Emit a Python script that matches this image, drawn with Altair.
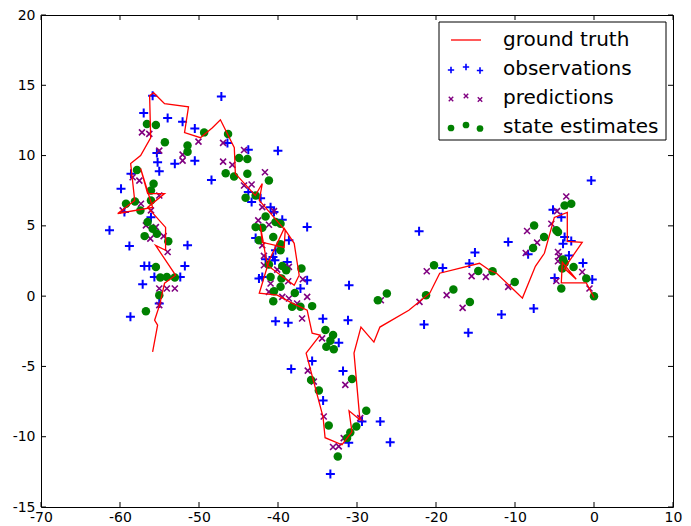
import altair as alt
import pandas as pd

# ---------------- data ----------------
truth_x = [0.0, -0.98, -4.14, -4.01, -2.25, -3.76, -1.49, -3.38, -3.38, -5.02,
           -6.28, -7.42, -9.06, -12.34, -13.22, -14.49, -19.53, -20.79, -23.44, -27.10,
           -27.86, -29.50, -30.38, -29.63, -31.01, -30.64, -31.90, -34.04, -34.30, -36.44,
           -34.67, -35.68, -36.31, -38.21, -40.10, -42.37, -41.11, -39.22, -37.95, -37.58,
           -37.32, -37.95, -41.36, -42.24, -41.99, -39.22, -39.09, -42.37, -41.99, -42.88,
           -45.40, -45.53, -47.29, -48.30, -49.82, -51.83, -51.33, -54.36, -55.75, -56.25,
           -56.12, -57.39, -58.65, -58.14, -60.29, -55.87, -57.39, -56.50, -54.36, -56.50,
           -54.23, -54.23, -55.49, -52.97, -54.36, -54.99, -55.62, -55.24, -55.87]
truth_y = [-0.10, 0.94, 0.94, 2.41, 1.20, 1.98, 3.83, 3.90, 5.95, 5.60,
           3.05, 2.12, -0.14, 1.63, 1.84, 2.34, 1.63, 0.21, -1.00, -2.20,
           -3.27, -2.20, -4.05, -8.80, -8.16, -9.65, -10.57, -10.07, -8.58, -4.05,
           -2.77, -2.63, -1.00, -0.50, 0.07, 0.21, 2.55, 4.82, 3.76, 2.41,
           1.49, 0.78, 2.20, 5.03, 3.83, 3.47, 4.68, 6.81, 8.01, 7.16,
           8.72, 10.56, 12.55, 11.98, 11.27, 11.63, 13.47, 13.69, 14.47, 14.25,
           11.27, 10.00, 9.43, 6.81, 5.88, 6.31, 9.08, 7.30, 7.30, 6.31,
           4.89, 3.26, 3.61, 1.49, 0.92, -0.64, -1.71, -2.06, -3.97]

obs_x = [-55.87, -57.00, -53.97, -52.08, -50.53, -55.33, -55.24, -53.06, -50.53, -55.03,
         -58.61, -59.87, -48.42, -61.33, -58.81, -51.45, -56.92, -56.29, -51.79, -57.13,
         -55.65, -52.37, -55.03, -58.68, -59.44, -56.08, -46.40, -43.76, -40.01, -43.76,
         -43.34, -42.20, -40.94, -40.51, -39.46, -36.31, -42.83, -38.62, -40.31, -40.64,
         -40.39, -41.57, -38.83, -42.41, -41.99, -36.31, -37.16, -40.31, -38.71, -34.32,
         -31.14, -32.31, -35.68, -38.33, -31.77, -34.29, -27.06, -29.37, -31.05, -33.37,
         -25.80, -22.14, -15.07, -19.15, -15.78, -21.51, -15.91, -11.71, -0.35, -5.19,
         -4.14, -10.86, -3.72, -3.92, -2.88, -3.17, -1.40, -4.98, -0.22, -8.34,
         -7.63, -47.17, -31.01]
obs_y = [14.26, 13.03, 12.67, 12.41, 11.93, 10.19, 9.52, 9.41, 9.64, 8.88,
         8.70, 7.64, 8.27, 4.68, 3.56, 3.62, 2.15, 2.15, 2.15, 0.85,
         1.37, 1.37, -0.52, -1.47, 5.98, 5.62, 10.90, 10.42, 10.35, 7.40,
         6.69, 6.97, 6.33, 5.98, 5.44, 4.92, 4.13, 3.97, 3.26, 2.79,
         2.55, 2.62, 2.43, 1.25, 1.37, 1.13, 0.54, -1.78, -1.90, -1.61,
         -1.71, -3.31, -4.61, -5.18, -5.32, -7.43, -8.92, -8.92, -10.43, -12.65,
         -10.39, 4.61, 3.10, 2.00, 2.32, -2.01, -2.61, -1.30, 8.22, 6.15,
         5.62, 3.85, 4.20, 3.73, 3.92, 2.90, 2.36, 1.29, 1.18, 2.98,
         -0.88, 14.20, 0.78]

pred_x = [-57.22, -56.29, -50.07, -55.03, -52.08, -52.08, -58.40, -57.55, -55.03, -59.66,
          -57.35, -56.08, -56.72, -55.46, -56.16, -54.48, -53.97, -55.03, -54.07, -53.06,
          -55.03, -46.95, -44.30, -46.95, -45.78, -41.65, -44.30, -43.34, -41.99, -40.51,
          -42.50, -41.15, -41.99, -41.78, -41.78, -40.10, -38.62, -36.86, -38.71, -40.94,
          -41.15, -39.46, -38.62, -36.31, -37.58, -36.95, -34.42, -36.23, -35.47, -31.48,
          -34.21, -29.59, -31.68, -32.31, -33.03, -21.17, -15.49, -13.69, -18.65, -22.09,
          -16.63, -26.98, -3.51, -4.68, -5.40, -8.47, -7.20, -8.64, -4.56, -4.43,
          -4.56, -1.49, -4.77, -0.57, -10.86]
pred_y = [11.65, 11.54, 10.99, 10.35, 10.07, 9.64, 8.46, 8.22, 7.16, 6.10,
          6.57, 6.10, 5.03, 4.91, 4.09, 4.27, 3.14, 0.54, 0.54, 0.54,
          -0.64, 10.90, 10.40, 9.57, 9.34, 8.81, 7.87, 7.94, 6.33, 6.05,
          5.39, 5.08, 3.61, 2.86, 2.20, 1.89, 2.08, 1.20, 1.06, 0.90,
          0.30, -0.05, -0.17, -0.05, -0.52, -1.59, -3.00, -5.30, -6.08, -6.31,
          -8.56, -8.68, -10.10, -10.69, -10.73, 1.77, 1.42, 1.37, 0.07, -0.41,
          -0.83, -0.29, 7.09, 6.05, 5.15, 4.63, 3.81, 3.07, 3.14, 2.83,
          2.48, 1.72, 1.08, 0.54, 0.66]

est_x = [-56.59, -55.46, -49.35, -54.32, -51.45, -51.45, -57.85, -55.75, -56.08, -59.24,
         -58.11, -57.42, -56.08, -56.50, -55.87, -55.33, -56.88, -53.89, -55.46, -54.90,
         -54.07, -53.06, -55.03, -56.72, -46.32, -44.93, -43.88, -46.62, -45.56, -43.88,
         -41.15, -44.10, -42.83, -41.57, -40.31, -39.68, -42.83, -41.99, -40.60, -42.41,
         -39.68, -39.68, -41.15, -39.46, -38.96, -37.03, -39.56, -39.68, -40.94, -40.51,
         -37.87, -40.60, -38.21, -37.16, -35.68, -34.00, -33.03, -33.37, -33.88, -32.94,
         -30.63, -35.81, -34.83, -28.83, -30.09, -33.58, -30.85, -31.26, -32.43, -20.25,
         -14.65, -12.84, -17.80, -21.26, -15.71, -26.22, -27.36, -3.72, -2.88, -7.58,
         -4.77, -4.56, -6.32, -7.71, -3.92, -3.72, -2.59, -4.01, -0.98, -10.03,
         -4.14, 0.0]
est_y = [12.25, 12.17, 11.65, 10.94, 10.71, 10.28, 8.98, 7.99, 7.51, 6.57,
         6.73, 6.10, 6.81, 5.27, 4.80, 4.44, 4.27, 3.90, 2.08, 1.32,
         1.37, 1.32, 0.07, -1.07, 11.54, 9.83, 9.76, 8.74, 8.51, 8.70,
         8.22, 7.00, 7.16, 5.67, 5.27, 5.15, 4.91, 4.87, 4.20, 3.97,
         3.69, 3.26, 2.25, 2.15, 1.84, 1.96, 1.25, 0.66, 1.37, 0.35,
         0.23, -0.36, -0.76, -0.76, -0.71, -2.41, -2.77, -3.17, -3.60, -3.78,
         -5.89, -5.96, -6.72, -8.16, -9.27, -9.20, -9.70, -10.10, -11.40, 2.20,
         1.79, 1.77, 0.47, 0.07, -0.41, 0.19, -0.29, 6.45, 6.57, 5.03,
         4.68, 4.56, 4.20, 3.42, 2.60, 2.36, 2.08, 1.96, 1.25, 1.01,
         0.54, 0.0]

x_ticks = [-70, -60, -50, -40, -30, -20, -10, 0, 10]
y_ticks = [-15, -10, -5, 0, 5, 10, 15, 20]

legend_labels = ["ground truth", "observations", "predictions", "state estimates"]

# ---------------- layout ----------------
W, H = 632, 492
FONT = "DejaVu Sans"

truth = pd.DataFrame({"x": truth_x, "y": truth_y, "i": list(range(len(truth_x)))})
obs = pd.DataFrame({"x": obs_x, "y": obs_y})
pred = pd.DataFrame({"x": pred_x, "y": pred_y})
est = pd.DataFrame({"x": est_x, "y": est_y})
xt = pd.DataFrame({"v": x_ticks})
yt = pd.DataFrame({"v": y_ticks})

xs = alt.Scale(domain=[-70, 10], nice=False, zero=False)
ys = alt.Scale(domain=[-15, 20], nice=False, zero=False)

xaxis = alt.Axis(values=x_ticks, ticks=False, domain=False, grid=False, title=None,
                 labelPadding=3, labelFontSize=14, labelFont=FONT, labelColor="black",
                 labelExpr="'' + datum.value", labelFlush=False, labelOverlap=False)
yaxis = alt.Axis(values=y_ticks, ticks=False, domain=False, grid=False, title=None,
                 labelPadding=6, labelFontSize=14, labelFont=FONT, labelColor="black",
                 labelExpr="'' + datum.value", labelFlush=False, labelOverlap=False)

PLUS = "M-1,0L1,0M0,-1L0,1"
CROSS = "M-1,-1L1,1M-1,1L1,-1"

obs_layer = alt.Chart(obs).mark_point(shape=PLUS, filled=False, color="#0000ff",
                                      strokeWidth=2, size=81, opacity=1).encode(
    x=alt.X("x:Q", scale=xs, axis=xaxis), y=alt.Y("y:Q", scale=ys, axis=yaxis))
pred_layer = alt.Chart(pred).mark_point(shape=CROSS, filled=False, color="#800080",
                                        strokeWidth=1.6, size=36, opacity=1).encode(
    x=alt.X("x:Q", scale=xs), y=alt.Y("y:Q", scale=ys))
est_layer = alt.Chart(est).mark_circle(color="#008000", size=72, opacity=1).encode(
    x=alt.X("x:Q", scale=xs), y=alt.Y("y:Q", scale=ys))
truth_layer = alt.Chart(truth).mark_line(color="#ff0000", strokeWidth=1.3).encode(
    x=alt.X("x:Q", scale=xs), y=alt.Y("y:Q", scale=ys), order="i:Q")

TL = 5
xt_bottom = alt.Chart(xt).mark_rule(color="black", strokeWidth=1).encode(
    x=alt.X("v:Q", scale=xs), y=alt.value(H), y2=alt.value(H - TL))
xt_top = alt.Chart(xt).mark_rule(color="black", strokeWidth=1).encode(
    x=alt.X("v:Q", scale=xs), y=alt.value(0), y2=alt.value(TL))
yt_left = alt.Chart(yt).mark_rule(color="black", strokeWidth=1).encode(
    y=alt.Y("v:Q", scale=ys), x=alt.value(0), x2=alt.value(TL))
yt_right = alt.Chart(yt).mark_rule(color="black", strokeWidth=1).encode(
    y=alt.Y("v:Q", scale=ys), x=alt.value(W - TL), x2=alt.value(W))

# ---------------- legend (drawn by hand, pixel positions inside the plot) ----------------
LX0, LY0, LX1, LY1 = 398, 7, 625, 125
box = alt.Chart(pd.DataFrame({"a": [0]})).mark_rect(fill="white", stroke="black",
                                                    strokeWidth=1).encode(
    x=alt.value(LX0), x2=alt.value(LX1), y=alt.value(LY0), y2=alt.value(LY1))
rows_y = [25, 54, 83, 112]
leg_line = alt.Chart(pd.DataFrame({"a": [0]})).mark_rule(color="#ff0000", strokeWidth=1.3).encode(
    x=alt.value(410), x2=alt.value(440), y=alt.value(rows_y[0]))
leg_text = alt.Chart(pd.DataFrame({"t": legend_labels, "py": rows_y})).mark_text(
    align="left", baseline="middle", font=FONT, fontSize=20, color="black").encode(
    x=alt.value(462), y=alt.Y("py:Q", scale=None, axis=None), text="t:N")
mx = [410, 425, 439]
moff = [1, -2, 1.5]
leg_obs = alt.Chart(pd.DataFrame({"px": mx, "py": [rows_y[1] + o for o in moff]})).mark_point(
    shape=PLUS, filled=False, color="#0000ff", strokeWidth=1.6, size=40, opacity=1).encode(
    x=alt.X("px:Q", scale=None, axis=None), y=alt.Y("py:Q", scale=None, axis=None))
leg_pred = alt.Chart(pd.DataFrame({"px": mx, "py": [rows_y[2] + o for o in moff]})).mark_point(
    shape=CROSS, filled=False, color="#800080", strokeWidth=1.4, size=20, opacity=1).encode(
    x=alt.X("px:Q", scale=None, axis=None), y=alt.Y("py:Q", scale=None, axis=None))
leg_est = alt.Chart(pd.DataFrame({"px": mx, "py": [rows_y[3] + o for o in moff]})).mark_circle(
    color="#008000", size=45, opacity=1).encode(
    x=alt.X("px:Q", scale=None, axis=None), y=alt.Y("py:Q", scale=None, axis=None))

main = alt.layer(obs_layer, pred_layer, est_layer, truth_layer,
                 xt_bottom, xt_top, yt_left, yt_right)
legend = alt.layer(box, leg_line, leg_text, leg_obs, leg_pred, leg_est).resolve_scale(
    x="independent", y="independent")

chart = alt.layer(main, legend).resolve_scale(x="independent", y="independent").properties(
    width=W, height=H,
    padding={"left": 33, "top": 7, "right": 10, "bottom": 18},
    autosize=alt.AutoSizeParams(type="none"),
    background="white",
).configure_view(stroke="black", strokeWidth=1)

chart.save("out.html", embed_options={"renderer": "svg", "actions": False})
